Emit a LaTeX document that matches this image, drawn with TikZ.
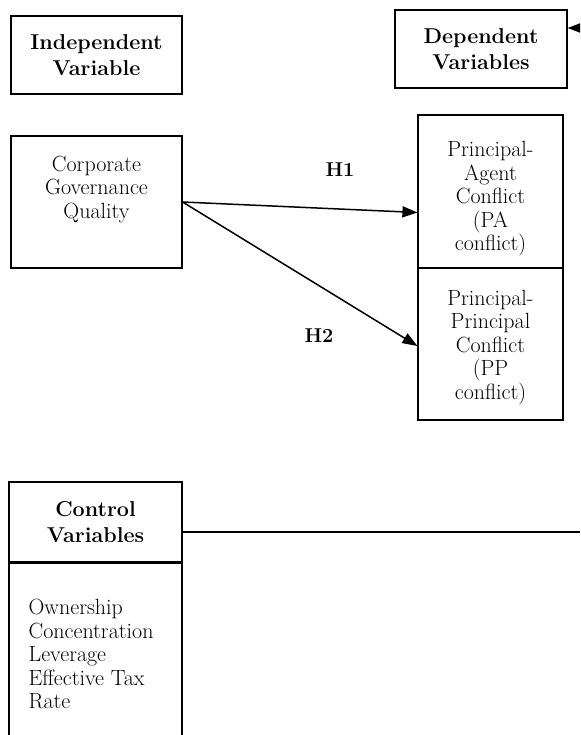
\documentclass[tikz,border=0pt]{standalone}
\usetikzlibrary{arrows.meta}

\begin{document}
\begin{tikzpicture}[x=1pt,y=-1pt]
\tikzstyle{headbox}=[draw,line width=1.2pt,rectangle,align=center,inner sep=0pt,font=\fontsize{21.5}{25.5}\selectfont\bfseries]
\tikzstyle{varbox}=[draw,line width=1.2pt,rectangle,align=center,inner sep=0pt,font=\fontsize{22}{23.5}\selectfont]
\tikzstyle{hyp}=[font=\fontsize{20}{23}\selectfont\bfseries]
\tikzstyle{link}=[line width=1.5pt,-{Triangle[length=15pt,width=11pt]}]
\useasboundingbox (0,0) rectangle (580,735);
\clip (0,0) rectangle (580,735);
\node[headbox,minimum width=171,minimum height=78] (indep) at (96.5,55) {Independent\\Variable};
\node[headbox,minimum width=172,minimum height=78] (dep) at (481,49) {Dependent\\Variables};
\node[varbox,minimum width=171,minimum height=132] (cgq) at (96.5,202) {Corporate\\Governance\\Quality\\[6pt]};
\node[varbox,minimum width=145,minimum height=153] (pa) at (490.5,191.5) {\rule{0pt}{30pt}Principal-\\Agent\\Conflict\\(PA\\conflict)};
\node[varbox,minimum width=145,minimum height=152] (pp) at (490.5,344) {\rule{0pt}{22pt}Principal-\\Principal\\Conflict\\(PP\\conflict)};
\node[headbox,minimum width=173,minimum height=80] (ctrl) at (95.5,522) {Control\\Variables};
\node[draw,line width=1.2pt,minimum width=173,minimum height=200,anchor=north,inner sep=0pt] (ctrlbody) at (ctrl.south) {};
\node[varbox,draw=none,align=left,anchor=north west] (ctrllist) at (28,599) {Ownership\\Concentration\\Leverage\\Effective Tax\\Rate};
\node[hyp] (h1) at (340,170) {H1};
\node[hyp] (h2) at (319,336) {H2};
\coordinate (depin) at (580,28);
\coordinate (ctrlout) at (580,532);
\draw[link] (cgq.east) -- ([yshift=-21]pa.west);
\draw[link] (cgq.east) -- ([yshift=-2]pp.west);
\draw[link] (depin) -- (dep.east |- depin);
\draw[line width=1.2pt] (ctrl.east |- ctrlout) -- (ctrlout);
\end{tikzpicture}
\end{document}
